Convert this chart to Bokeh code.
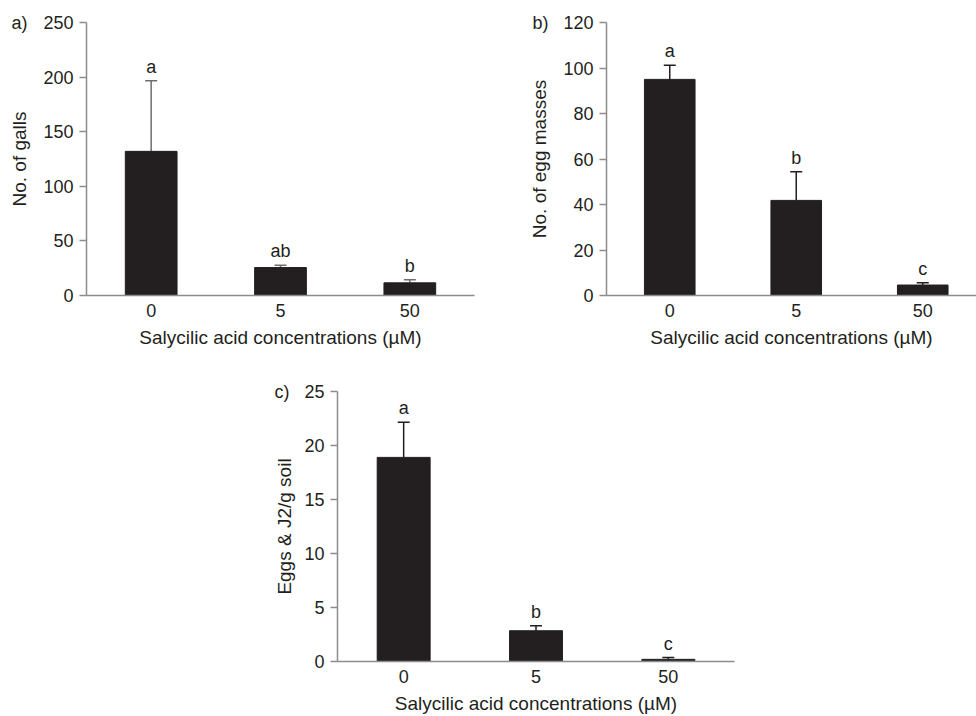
from bokeh.plotting import figure
from bokeh.models import (Range1d, FixedTicker, Whisker, TeeHead, ColumnDataSource,
                          LinearAxis, Spacer)
from bokeh.layouts import column, row
from bokeh.core.properties import value
from bokeh.embed import file_html
from bokeh.resources import INLINE

# ---- data ----
concentrations = ["0", "5", "50"]
x_title = "Salycilic acid concentrations (\u00b5M)"

galls = [132.0, 25.6, 11.6]
galls_err = [64.6, 2.1, 2.8]
galls_letters = ["a", "ab", "b"]
galls_ticks = [0, 50, 100, 150, 200, 250]

egg_masses = [95.0, 41.8, 4.6]
egg_masses_err = [6.2, 12.6, 1.0]
egg_masses_letters = ["a", "b", "c"]
egg_masses_ticks = [0, 20, 40, 60, 80, 100, 120]

eggs_j2 = [18.9, 2.85, 0.2]
eggs_j2_err = [3.25, 0.45, 0.17]
eggs_j2_letters = ["a", "b", "c"]
eggs_j2_ticks = [0, 5, 10, 15, 20, 25]

FONT = "Liberation Sans"
INK = "#231f20"
AXIS = "#8c8c8c"


def style_text(ax):
    ax.major_label_text_font = FONT
    ax.major_label_text_font_size = "18px"
    ax.major_label_text_color = INK
    ax.axis_label_text_font = FONT
    ax.axis_label_text_font_size = "19px"
    ax.axis_label_text_font_style = "normal"
    ax.axis_label_text_color = INK


def panel(tag, ylabel, vals, errs, letters, ticks, width, height,
          bl, br, bt, bb, x_end, err_color, tag_standoff, title_standoff):
    xs = list(range(len(concentrations)))
    src = ColumnDataSource(dict(
        x=xs, y=vals, top=[v + e for v, e in zip(vals, errs)], letter=letters))
    p = figure(width=width, height=height, output_backend="svg", toolbar_location=None,
               x_range=Range1d(-0.5, x_end), y_range=Range1d(ticks[0], ticks[-1]),
               min_border_left=bl, min_border_right=br, min_border_top=bt,
               min_border_bottom=bb)
    p.outline_line_color = None
    p.grid.visible = False
    p.background_fill_color = "white"
    p.border_fill_color = "white"

    p.vbar(x="x", top="y", bottom=0, width=0.4, source=src,
           fill_color=INK, line_color=INK)
    p.add_layout(Whisker(source=src, base="x", upper="top", lower="y", dimension="height",
                         line_color=err_color, line_width=1.5, level="underlay",
                         upper_head=TeeHead(size=12, line_color=err_color, line_width=1.5),
                         lower_head=None))
    p.text(x="x", y="top", text="letter", source=src, y_offset=-4,
           text_align="center", text_baseline="bottom", text_color=INK,
           text_font=value(FONT), text_font_size="18px")

    p.xaxis.ticker = FixedTicker(ticks=xs)
    p.xaxis.major_label_overrides = {i: c for i, c in enumerate(concentrations)}
    p.yaxis.ticker = FixedTicker(ticks=ticks)
    p.xaxis.axis_label = x_title
    for ax in (p.xaxis[0], p.yaxis[0]):
        ax.axis_line_color = AXIS
        ax.axis_line_width = 1.5
        ax.major_tick_line_color = AXIS
        ax.major_tick_line_width = 1.5
        ax.minor_tick_line_color = None
        style_text(ax)
    p.xaxis.major_tick_out = 0
    p.xaxis.major_tick_in = 0
    p.xaxis.major_label_standoff = 8
    p.xaxis.axis_label_standoff = 7
    p.yaxis.major_tick_out = 7
    p.yaxis.major_tick_in = 0
    p.yaxis.major_label_standoff = 6

    # outer left axis: carries the panel tag at the top and the y title
    outer = LinearAxis(ticker=FixedTicker(ticks=[ticks[-1]]),
                       major_label_overrides={ticks[-1]: tag},
                       axis_line_color=None, major_tick_line_color=None,
                       minor_tick_line_color=None, major_tick_out=0, major_tick_in=0,
                       major_label_standoff=tag_standoff,
                       axis_label=ylabel, axis_label_standoff=title_standoff)
    style_text(outer)
    p.add_layout(outer, "left")
    return p


pa = panel("a)", "No. of galls", galls, galls_err, galls_letters, galls_ticks,
           width=500, height=370, bl=86, br=26, bt=22, bb=75, x_end=2.5,
           err_color="#6e6e6e", tag_standoff=13, title_standoff=-22)
pb = panel("b)", "No. of egg masses", egg_masses, egg_masses_err, egg_masses_letters,
           egg_masses_ticks, width=476, height=370, bl=106, br=0, bt=22, bb=75,
           x_end=2.425, err_color=INK, tag_standoff=12, title_standoff=-21)
pc = panel("c)", "Eggs & J2/g soil", eggs_j2, eggs_j2_err, eggs_j2_letters, eggs_j2_ticks,
           width=494, height=346, bl=87, br=10, bt=21, bb=53, x_end=2.5,
           err_color=INK, tag_standoff=12, title_standoff=-23)

layout = column(row(pa, pb), row(Spacer(width=250, height=346), pc))
open("out.html", "w").write(file_html(layout, INLINE))
